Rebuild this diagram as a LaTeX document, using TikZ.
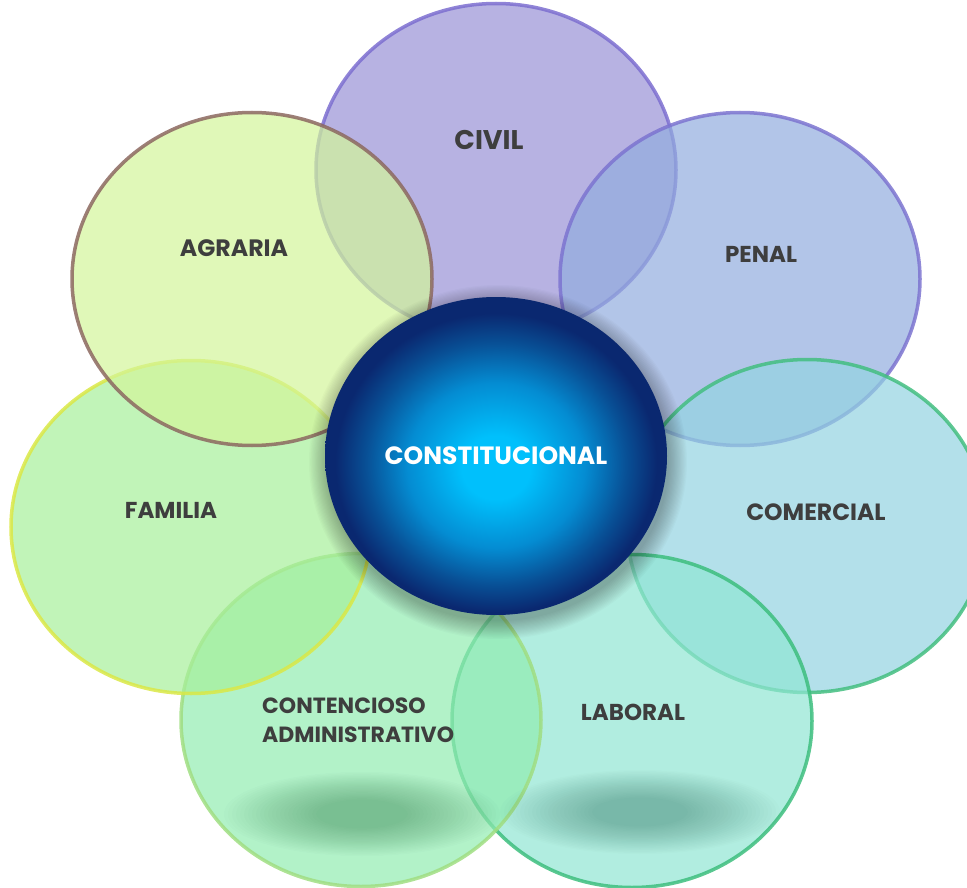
\documentclass[tikz,border=0pt]{standalone}
\usepackage{fontspec}
\setmainfont{Poppins}
\usetikzlibrary{shapes.geometric}
\definecolor{civilF}{RGB}{152,146,214}
\definecolor{civilD}{RGB}{125,111,208}
\definecolor{penalF}{RGB}{146,172,222}
\definecolor{penalD}{RGB}{124,116,208}
\definecolor{comerF}{RGB}{147,211,225}
\definecolor{comerD}{RGB}{67,190,128}
\definecolor{laborF}{RGB}{144,230,211}
\definecolor{laborD}{RGB}{61,190,126}
\definecolor{contF}{RGB}{145,236,177}
\definecolor{contD}{RGB}{160,222,130}
\definecolor{famF}{RGB}{167,239,154}
\definecolor{famD}{RGB}{218,232,70}
\definecolor{agrF}{RGB}{211,245,154}
\definecolor{agrD}{RGB}{140,104,96}
\definecolor{lblcol}{RGB}{62,62,62}
\definecolor{shA}{RGB}{20,100,50}
\definecolor{shB}{RGB}{20,90,70}
\definecolor{ballA}{RGB}{0,192,252}
\definecolor{ballB}{RGB}{4,140,210}
\definecolor{ballC}{RGB}{8,80,150}
\definecolor{ballD}{RGB}{10,40,112}
\pgfdeclareradialshading{ballshade}{\pgfpoint{0bp}{-2bp}}{color(0bp)=(ballA); color(5bp)=(ballA); color(13bp)=(ballB); color(19bp)=(ballC); color(23.5bp)=(ballD); color(25bp)=(ballD); color(50bp)=(ballD)}
\tikzset{
  petal/.style={ellipse, minimum width=360pt, minimum height=333pt, inner sep=0pt, line width=3.5pt, fill opacity=0.7, draw opacity=0.85},
  lbl/.style={text=lblcol, font=\bfseries\fontsize{23}{29}\selectfont, inner sep=0pt},
  ballstyle/.style={ellipse, minimum width=342pt, minimum height=318pt, inner sep=0pt, shade, shading=ballshade, text=white, font=\bfseries\fontsize{25}{29}\selectfont}
}
\begin{document}
\begin{tikzpicture}[x=1pt,y=-1pt]
\useasboundingbox (0,0) rectangle (967,888);
\node[petal, fill=civilF, draw=civilD] (civil) at (496,170) {};
\node[petal, fill=penalF, draw=penalD] (penal) at (740,279) {};
\node[petal, fill=comerF, draw=comerD] (comercial) at (807,526) {};
\node[petal, fill=laborF, draw=laborD] (laboral) at (632,721) {};
\node[petal, fill=contF, draw=contD] (contencioso) at (361,720) {};
\node[petal, fill=famF, draw=famD] (familia) at (191,527) {};
\node[petal, fill=agrF, draw=agrD] (agraria) at (252,279) {};
% soft shadows
\foreach \k in {0,...,23}{
  \fill[shA, opacity=0.015] (362,814) ellipse [x radius={138pt-\k*4pt}, y radius={42pt-\k*1.2pt}];
  \fill[shB, opacity=0.015] (640,812) ellipse [x radius={140pt-\k*4pt}, y radius={42pt-\k*1.2pt}];
}
% glow around the ball
\foreach \k in {0,...,15}{
  \fill[black, opacity=0.018] (498,462) ellipse [x radius={189pt-\k*1.2pt}, y radius={177pt-\k*1.2pt}];
}
\node[ballstyle] (constitucional) at (496,456) {CONSTITUCIONAL};
\node[lbl, font=\bfseries\fontsize{27}{29}\selectfont] (tcivil) at (489,140) {CIVIL};
\node[lbl, font=\bfseries\fontsize{23.7}{29}\selectfont] (tagraria) at (234,248) {AGRARIA};
\node[lbl] (tpenal) at (761,254) {PENAL};
\node[lbl] (tfamilia) at (171,510) {FAMILIA};
\node[lbl, font=\bfseries\fontsize{23.5}{29}\selectfont] (tcomercial) at (816,512) {COMERCIAL};
\node[lbl] (tlaboral) at (633,712) {LABORAL};
\node[lbl, align=left, anchor=west, font=\bfseries\fontsize{22}{29}\selectfont] (tcont) at (262,720) {CONTENCIOSO\\ADMINISTRATIVO};
\end{tikzpicture}
\end{document}
